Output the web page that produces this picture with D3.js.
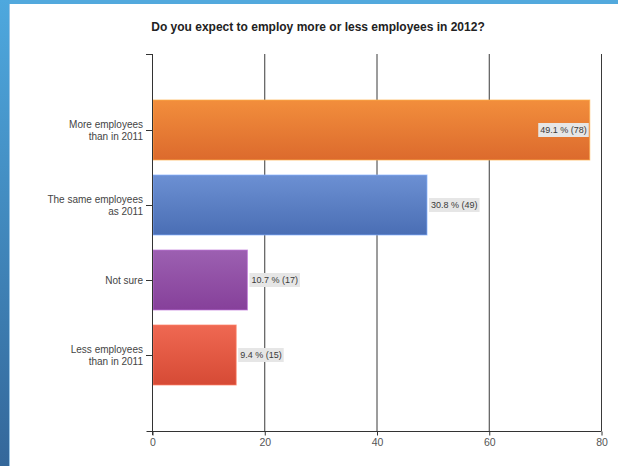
<!DOCTYPE html>
<html>
<head>
<meta charset="utf-8">
<script src="https://cdn.jsdelivr.net/npm/d3@7"></script>
<style>
  html, body { margin: 0; padding: 0; background: #fff; }
  svg { display: block; }
</style>
</head>
<body>
<svg id="chart" width="618" height="466"></svg>
<script>
// Survey answers, counts and shares
const categories = [
  "More employees\nthan in 2011",
  "The same employees\nas 2011",
  "Not sure",
  "Less employees\nthan in 2011"
];
const counts = [78, 49, 17, 15];
const percents = [49.1, 30.8, 10.7, 9.4];
const xTicks = [0, 20, 40, 60, 80];
const barColors = [
  ["#f28e3c", "#dc6a2d"],
  ["#6c90d3", "#4a6eb4"],
  ["#9c60b1", "#86409a"],
  ["#ef6852", "#d64a35"]
];
const title = "Do you expect to employ more or less employees in 2012?";

(function () {
  const W = 618, H = 466;
  const svg = d3.select("#chart");
  const defs = svg.append("defs");

  // page frame: blue bands on the top and left edges
  const sideGrad = defs.append("linearGradient").attr("id", "side")
    .attr("x1", 0).attr("y1", 0).attr("x2", 0).attr("y2", 1);
  sideGrad.append("stop").attr("offset", "0%").attr("stop-color", "#4ea8de");
  sideGrad.append("stop").attr("offset", "100%").attr("stop-color", "#34679a");
  svg.append("rect").attr("x", 0).attr("y", 0).attr("width", W).attr("height", 4).attr("fill", "#52a9dd");
  svg.append("rect").attr("x", 0).attr("y", 0).attr("width", 9).attr("height", H).attr("fill", "url(#side)");
  svg.append("rect").attr("x", 9).attr("y", 4).attr("width", 1).attr("height", H).attr("fill", "#9cc6e6");

  // plot area
  const pLeft = 152, pRight = 601, pTop = 54, pBottom = 431;
  const x = d3.scaleLinear().domain([0, 80]).range([pLeft, pRight]);
  const y = d3.scaleBand().domain(d3.range(categories.length))
    .range([92.5, 392.5]).paddingInner(0.2).paddingOuter(0.1);
  const font = "Liberation Sans, Arial, sans-serif";

  // title
  svg.append("text")
    .attr("x", 318).attr("y", 31)
    .attr("text-anchor", "middle")
    .attr("font-family", font)
    .attr("font-size", 12).attr("font-weight", "bold")
    .attr("fill", "#222")
    .text(title);

  // vertical grid lines
  svg.append("g").selectAll("line").data(xTicks.slice(1)).join("line")
    .attr("x1", d => x(d) + 0.5).attr("x2", d => x(d) + 0.5)
    .attr("y1", pTop).attr("y2", pBottom)
    .attr("stroke", "#3a3a3a").attr("stroke-width", 1);

  // bar gradients
  barColors.forEach((c, i) => {
    const g = defs.append("linearGradient").attr("id", "bar" + i)
      .attr("x1", 0).attr("y1", 0).attr("x2", 0).attr("y2", 1);
    g.append("stop").attr("offset", "0%").attr("stop-color", c[0]);
    g.append("stop").attr("offset", "100%").attr("stop-color", c[1]);
  });

  // bars
  svg.append("g").selectAll("rect").data(counts).join("rect")
    .attr("x", x(0) + 1)
    .attr("y", (d, i) => y(i))
    .attr("width", d => x(d) - x(0) - 1)
    .attr("height", y.bandwidth())
    .attr("fill", (d, i) => `url(#bar${i})`)
    .attr("stroke", (d, i) => d3.color(barColors[i][0]).brighter(0.6))
    .attr("stroke-opacity", 0.7)
    .attr("stroke-width", 1);

  // value labels
  const lg = svg.append("g");
  counts.forEach((d, i) => {
    const txt = `${percents[i]} % (${d})`;
    const cy = y(i) + y.bandwidth() / 2;
    const t = lg.append("text")
      .attr("font-family", font).attr("font-size", 9)
      .attr("fill", "#3a3a3a")
      .attr("y", cy + 3.2)
      .text(txt);
    const w = t.node().getComputedTextLength();
    const inside = x(d) + 6 + w > pRight;
    const tx = inside ? x(d) - w - 3 : x(d) + 4;
    t.attr("x", tx);
    lg.insert("rect", "text")
      .attr("x", tx - 2).attr("y", cy - 7)
      .attr("width", w + 4).attr("height", 14)
      .attr("fill", "#e6e6e6");
  });

  // y axis
  svg.append("line")
    .attr("x1", pLeft + 0.5).attr("x2", pLeft + 0.5)
    .attr("y1", pTop).attr("y2", pBottom + 4)
    .attr("stroke", "#333");
  svg.append("line")
    .attr("x1", pLeft - 6).attr("x2", pLeft + 0.5)
    .attr("y1", pTop + 0.5).attr("y2", pTop + 0.5)
    .attr("stroke", "#333");
  svg.append("g").selectAll("line").data(d3.range(categories.length)).join("line")
    .attr("x1", pLeft - 6).attr("x2", pLeft)
    .attr("y1", i => y(i) + y.bandwidth() / 2 + 0.5)
    .attr("y2", i => y(i) + y.bandwidth() / 2 + 0.5)
    .attr("stroke", "#333");

  // category labels
  const cl = svg.append("g");
  categories.forEach((c, i) => {
    const lines = c.split("\n");
    const cy = y(i) + y.bandwidth() / 2;
    const t = cl.append("text")
      .attr("font-family", font).attr("font-size", 10)
      .attr("fill", "#444").attr("text-anchor", "end");
    const lh = 12;
    const y0 = cy + 3.5 - (lines.length - 1) * lh / 2;
    lines.forEach((ln, k) => {
      t.append("tspan").attr("x", 143).attr("y", y0 + k * lh).text(ln);
    });
  });

  // x axis
  const xAxis = d3.axisBottom(x).tickValues(xTicks).tickSize(4).tickPadding(3);
  const xg = svg.append("g").attr("transform", `translate(0.5,${pBottom + 0.5})`).call(xAxis);
  xg.select(".domain").attr("d", `M${pLeft - 6},0H${pRight}`).attr("stroke", "#333");
  xg.selectAll(".tick line").attr("stroke", "#333");
  xg.selectAll(".tick text")
    .attr("font-family", font).attr("font-size", 10.5).attr("fill", "#555");
})();
</script>
</body>
</html>
